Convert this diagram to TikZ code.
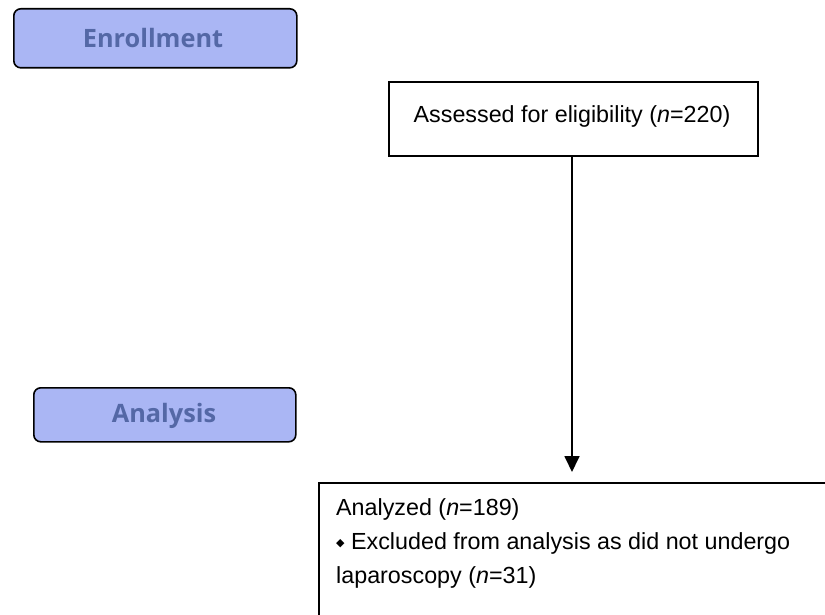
\documentclass[tikz,border=0pt]{standalone}
\usepackage{fontspec}
\setmainfont{Liberation Sans}
\newfontfamily\labelfont{Open Sans}
\newfontfamily\symfont{DejaVu Sans}
\usetikzlibrary{arrows.meta}
\definecolor{phasefill}{HTML}{AAB6F4}
\definecolor{phasetext}{HTML}{5468A6}
\tikzset{
  phase/.style={draw=black, line width=1.6pt, fill=phasefill, rounded corners=7pt, anchor=north west, inner sep=0pt},
  phasetxt/.style={text=phasetext, font=\labelfont\bfseries\fontsize{25.3}{29}\selectfont},
  flowbox/.style={draw=black, line width=1.6pt, fill=white, anchor=north west, inner sep=0pt},
  conn/.style={line width=1.8pt, -{Triangle[length=16pt,width=15pt]}}
}
\begin{document}
\begin{tikzpicture}[x=1pt,y=-1pt]
\useasboundingbox (0,0) rectangle (825,615);
\clip (0,0) rectangle (825,615);
\node[phase, minimum width=283pt, minimum height=59pt] (enr) at (13,8) {};
\node[phasetxt] (enrt) at (153,38) {Enrollment};
\node[phase, minimum width=262pt, minimum height=54pt] (ana) at (33,387) {};
\node[phasetxt] (anat) at (164,416) {Analysis};
\node[flowbox, minimum width=369pt, minimum height=74pt] (ass) at (388,81) {};
\node[font=\fontsize{23.3}{28}\selectfont] (asst) at (572,116) {Assessed for eligibility (\textit{n}=220)};
\node[flowbox, minimum width=530pt, minimum height=150pt] (anb) at (318,482) {};
\node[anchor=north west, align=left, font=\fontsize{23.3}{34}\selectfont, inner sep=0pt] (anbt) at (336,498)
  {Analyzed (\textit{n}=189)\\
   \raisebox{3pt}{\symfont\fontsize{11}{11}\selectfont ◆}\ Excluded from analysis as did not undergo\\
   laparoscopy (\textit{n}=31)};
\coordinate (tip) at (572,472);
\draw[conn] (ass.south -| tip) -- (tip);
\end{tikzpicture}
\end{document}
